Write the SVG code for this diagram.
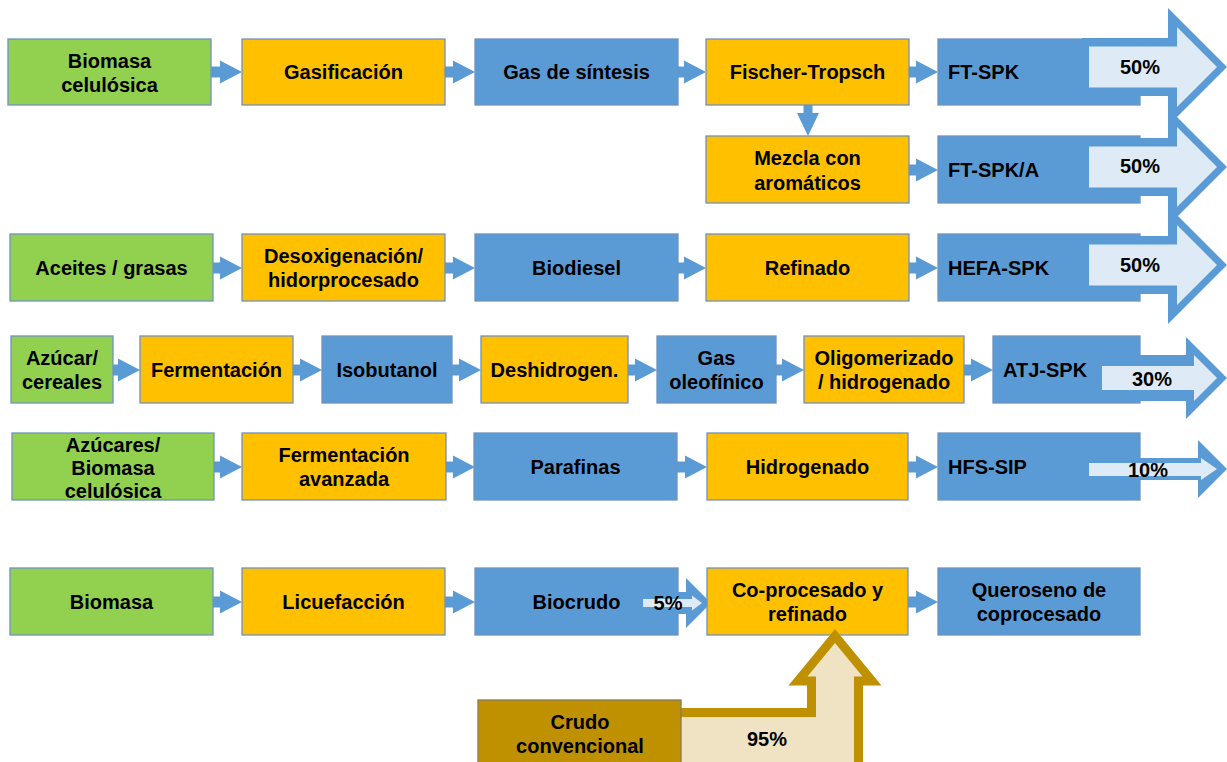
<svg xmlns="http://www.w3.org/2000/svg" width="1227" height="762" viewBox="0 0 1227 762">
<style>
.g{fill:#92d050;stroke:#6f93c0;stroke-width:1.3}
.o{fill:#ffc000;stroke:#6f93c0;stroke-width:1.3}
.b{fill:#5b9bd5;stroke:#6f93c0;stroke-width:1.3}
.d{fill:#bf9000;stroke:#8a7a50;stroke-width:1.3}
text{font-family:"Liberation Sans",Arial,sans-serif;font-weight:bold;font-size:20px;fill:#000;text-anchor:middle}
.l{text-anchor:start}
.ob{fill:#5b9bd5}
.in{fill:#deebf7}
.ca{fill:#5b9bd5}
</style>
<defs>
<path id="ar" d="M-36 -5.5 L-22 -5.5 L-22 -11.5 L0 0 L-22 11.5 L-22 5.5 L-36 5.5 Z"/>
<path id="bigo" d="M1082 -29 L1168 -29 L1168 -59 L1227 0 L1168 59 L1168 29 L1082 29 Z"/>
<path id="bigi" d="M1089 -20.5 L1177 -20.5 L1177 -40 L1217 0 L1177 40 L1177 20.5 L1089 20.5 Z"/>
</defs>
<g id="connectors">
<use href="#ar" class="ca" x="242" y="72"/>
<use href="#ar" class="ca" x="475" y="72"/>
<use href="#ar" class="ca" x="706" y="72"/>
<use href="#ar" class="ca" x="938" y="72"/>
<path class="ca" d="M803.5 100 L812.5 100 L812.5 113 L819 113 L808 136 L797 113 L803.5 113 Z"/>
<use href="#ar" class="ca" x="938" y="170"/>
<use href="#ar" class="ca" x="242" y="268"/>
<use href="#ar" class="ca" x="475" y="268"/>
<use href="#ar" class="ca" x="706" y="268"/>
<use href="#ar" class="ca" x="938" y="268"/>
<use href="#ar" class="ca" x="140" y="370"/>
<use href="#ar" class="ca" x="322" y="370"/>
<use href="#ar" class="ca" x="481" y="370"/>
<use href="#ar" class="ca" x="657" y="370"/>
<use href="#ar" class="ca" x="804" y="370"/>
<use href="#ar" class="ca" x="993" y="370"/>
<use href="#ar" class="ca" x="242" y="467"/>
<use href="#ar" class="ca" x="475" y="467"/>
<use href="#ar" class="ca" x="707" y="467"/>
<use href="#ar" class="ca" x="938" y="467"/>
<use href="#ar" class="ca" x="242" y="602"/>
<use href="#ar" class="ca" x="475" y="602"/>
<use href="#ar" class="ca" x="938" y="602"/>
</g>
<g id="n-biomasa-cel"><rect class="g" x="8" y="39" width="203" height="66"/><text x="109.5" y="68">Biomasa</text><text x="109.5" y="92">celulósica</text></g>
<g id="n-gasificacion"><rect class="o" x="242" y="39" width="203" height="66"/><text x="343.5" y="79">Gasificación</text></g>
<g id="n-gas-sintesis"><rect class="b" x="475" y="39" width="203" height="66"/><text x="576.5" y="79">Gas de síntesis</text></g>
<g id="n-fischer"><rect class="o" x="706" y="39" width="203" height="66"/><text x="807.5" y="79">Fischer-Tropsch</text></g>
<g id="n-ftspk"><rect class="b" x="938" y="39" width="202" height="66"/>
<use href="#bigo" class="ob" y="67"/><use href="#bigi" class="in" y="67"/>
<text class="l" x="948" y="79">FT-SPK</text><text x="1140" y="74">50%</text></g>
<g id="n-mezcla"><rect class="o" x="706" y="136" width="203" height="67"/><text x="807.5" y="165">Mezcla con</text><text x="807.5" y="190">aromáticos</text></g>
<g id="n-ftspka"><rect class="b" x="938" y="136" width="202" height="67"/>
<use href="#bigo" class="ob" y="167"/><use href="#bigi" class="in" y="167"/>
<text class="l" x="948" y="177">FT-SPK/A</text><text x="1140" y="173">50%</text></g>
<g id="n-aceites"><rect class="g" x="10" y="234" width="203" height="67"/><text x="111.5" y="275">Aceites / grasas</text></g>
<g id="n-desox"><rect class="o" x="242" y="234" width="203" height="67"/><text x="343.5" y="263">Desoxigenación/</text><text x="343.5" y="287">hidorprocesado</text></g>
<g id="n-biodiesel"><rect class="b" x="475" y="234" width="203" height="67"/><text x="576.5" y="275">Biodiesel</text></g>
<g id="n-refinado"><rect class="o" x="706" y="234" width="203" height="67"/><text x="807.5" y="275">Refinado</text></g>
<g id="n-hefa"><rect class="b" x="938" y="234" width="202" height="67"/>
<use href="#bigo" class="ob" y="265"/><use href="#bigi" class="in" y="265"/>
<text class="l" x="948" y="275">HEFA-SPK</text><text x="1140" y="272">50%</text></g>
<g id="n-azucar"><rect class="g" x="11" y="336" width="102" height="67"/><text x="62" y="365">Azúcar/</text><text x="62" y="389">cereales</text></g>
<g id="n-ferment"><rect class="o" x="140" y="336" width="153" height="67"/><text x="216.5" y="377">Fermentación</text></g>
<g id="n-isobutanol"><rect class="b" x="322" y="336" width="130" height="67"/><text x="387" y="377">Isobutanol</text></g>
<g id="n-deshidro"><rect class="o" x="481" y="336" width="147" height="67"/><text x="554.5" y="377">Deshidrogen.</text></g>
<g id="n-gasoleo"><rect class="b" x="657" y="336" width="119" height="67"/><text x="716.5" y="365">Gas</text><text x="716.5" y="389">oleofínico</text></g>
<g id="n-oligo"><rect class="o" x="804" y="336" width="160" height="67"/><text x="884" y="365">Oligomerizado</text><text x="884" y="389">/ hidrogenado</text></g>
<g id="n-atj"><rect class="b" x="993" y="336" width="147" height="67"/>
<path class="ob" d="M1098 355 L1186 355 L1186 337 L1227 378 L1186 419 L1186 401 L1098 401 Z"/>
<path class="in" d="M1102 366 L1194 366 L1194 355 L1217 378 L1194 401 L1194 390 L1102 390 Z"/>
<text class="l" x="1003" y="377">ATJ-SPK</text><text x="1152" y="386">30%</text></g>
<g id="n-azucares"><rect class="g" x="12" y="433" width="202" height="67"/><text x="113" y="452">Azúcares/</text><text x="113" y="475">Biomasa</text><text x="113" y="498">celulósica</text></g>
<g id="n-ferm-av"><rect class="o" x="242" y="433" width="204" height="67"/><text x="344" y="462">Fermentación</text><text x="344" y="486">avanzada</text></g>
<g id="n-parafinas"><rect class="b" x="474" y="433" width="203" height="67"/><text x="575.5" y="474">Parafinas</text></g>
<g id="n-hidrogenado"><rect class="o" x="707" y="433" width="201" height="67"/><text x="807.5" y="474">Hidrogenado</text></g>
<g id="n-hfs"><rect class="b" x="938" y="433" width="202" height="67"/>
<path class="ob" d="M1085 458 L1198 458 L1198 440 L1227 469 L1198 498 L1198 480 L1085 480 Z"/>
<path class="in" d="M1089 463 L1201 463 L1201 458 L1217 469 L1201 480 L1201 476 L1089 476 Z"/>
<text class="l" x="948" y="474">HFS-SIP</text><text x="1148" y="477">10%</text></g>
<g id="n-biomasa"><rect class="g" x="10" y="568" width="203" height="67"/><text x="111.5" y="609">Biomasa</text></g>
<g id="n-licuef"><rect class="o" x="242" y="568" width="203" height="67"/><text x="343.5" y="609">Licuefacción</text></g>
<g id="n-biocrudo"><rect class="b" x="475" y="568" width="203" height="67"/><text x="576.5" y="609">Biocrudo</text>
<path class="ob" d="M641 592 L686 592 L686 578 L711 603 L686 628 L686 614 L641 614 Z"/>
<path class="in" d="M643 599 L692 599 L692 595.5 L702 603 L692 610.5 L692 607 L643 607 Z"/>
<text x="668" y="610">5%</text></g>
<g id="n-coproc"><rect class="o" x="707" y="568" width="201" height="67"/><text x="807.5" y="597">Co-procesado y</text><text x="807.5" y="621">refinado</text></g>
<g id="n-queroseno"><rect class="b" x="938" y="568" width="202" height="67"/><text x="1039" y="597">Queroseno de</text><text x="1039" y="621">coprocesado</text></g>
<g id="n-crudo">
<path fill="#efe3c3" stroke="#bf9000" stroke-width="9" stroke-linejoin="miter" d="M670 712.5 L811.5 712.5 L811.5 681 L798 681 L835 636 L872 681 L858.5 681 L858.5 775 L670 775 Z"/>
<rect class="d" x="478" y="700" width="203" height="70"/><text x="580" y="729">Crudo</text><text x="580" y="753">convencional</text>
<text x="767" y="746">95%</text></g>
</svg>
